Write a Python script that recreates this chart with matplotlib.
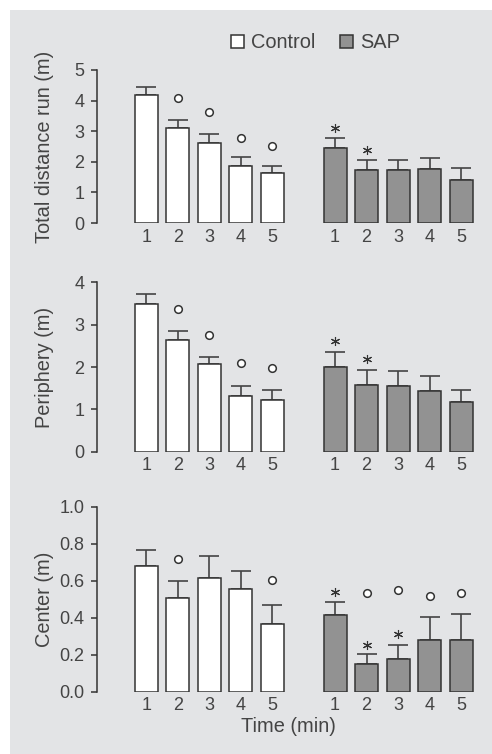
import numpy as np
import matplotlib
matplotlib.use('Agg')
from matplotlib import pyplot as plt
from matplotlib.patches import Rectangle

plt.rcParams['font.family'] = ['Liberation Sans', 'DejaVu Sans']

# time points (min)
minutes = ['1', '2', '3', '4', '5']

# total distance run (m)
dist_ctrl = [4.19, 3.10, 2.63, 1.85, 1.62]
dist_ctrl_err = [0.25, 0.28, 0.28, 0.32, 0.24]
dist_sap = [2.45, 1.74, 1.74, 1.76, 1.42]
dist_sap_err = [0.34, 0.32, 0.32, 0.38, 0.38]
dist_ctrl_circ = [None, 4.10, 3.62, 2.79, 2.53]
dist_sap_circ = [None, None, None, None, None]
dist_sap_star = [3.10, 2.38, None, None, None]

# periphery (m)
peri_ctrl = [3.49, 2.64, 2.08, 1.32, 1.22]
peri_ctrl_err = [0.23, 0.22, 0.16, 0.22, 0.24]
peri_sap = [2.00, 1.58, 1.56, 1.44, 1.18]
peri_sap_err = [0.36, 0.35, 0.35, 0.35, 0.27]
peri_ctrl_circ = [None, 3.37, 2.76, 2.09, 1.97]
peri_sap_circ = [None, None, None, None, None]
peri_sap_star = [2.62, 2.20, None, None, None]

# center (m)
cent_ctrl = [0.678, 0.506, 0.616, 0.557, 0.368]
cent_ctrl_err = [0.088, 0.092, 0.119, 0.094, 0.101]
cent_sap = [0.413, 0.150, 0.175, 0.278, 0.278]
cent_sap_err = [0.072, 0.055, 0.079, 0.124, 0.144]
cent_ctrl_circ = [None, 0.72, None, None, 0.602]
cent_sap_circ = [None, 0.532, 0.551, 0.516, 0.532]
cent_sap_star = [0.54, 0.254, 0.312, None, None]

panels = [
    ('Total distance run (m)', dist_ctrl, dist_ctrl_err, dist_sap, dist_sap_err,
     dist_ctrl_circ, dist_sap_circ, dist_sap_star, [0, 1, 2, 3, 4, 5], '%d'),
    ('Periphery (m)', peri_ctrl, peri_ctrl_err, peri_sap, peri_sap_err,
     peri_ctrl_circ, peri_sap_circ, peri_sap_star, [0, 1, 2, 3, 4], '%d'),
    ('Center (m)', cent_ctrl, cent_ctrl_err, cent_sap, cent_sap_err,
     cent_ctrl_circ, cent_sap_circ, cent_sap_star, [0.0, 0.2, 0.4, 0.6, 0.8, 1.0], '%.1f'),
]

W, H = 492, 754
bg = '#e3e4e6'
ink = '#333333'
txt = '#444444'
sap_col = '#929292'

# axes boxes in pixels: (bottom y of zero, top y of max)
boxes = [(223, 70), (451.7, 282.3), (691.7, 506.7)]
x_left, x_right = 97, 480

fig = plt.figure(figsize=(W / 100, H / 100), dpi=100)
fig.patch.set_facecolor('white')
fig.patches.append(Rectangle((10 / W, 0), 1, 1 - 10 / H, transform=fig.transFigure,
                             facecolor=bg, edgecolor='none', zorder=-10))

pos_ctrl = np.arange(5)
pos_sap = np.arange(5) + 6

for i, (ylab, c, ce, s, se, cc, sc, ss, yticks, fmt) in enumerate(panels):
    y0, y1 = boxes[i]
    ax = fig.add_axes([x_left / W, 1 - y0 / H, (x_right - x_left) / W, (y0 - y1) / H])
    ax.set_facecolor('none')

    ax.bar(pos_ctrl, c, width=0.73, color='white', edgecolor=ink, linewidth=1.1, zorder=2,
           label='Control')
    ax.bar(pos_sap, s, width=0.73, color=sap_col, edgecolor=ink, linewidth=1.1, zorder=2,
           label='SAP')
    ax.errorbar(pos_ctrl, c, yerr=[np.zeros(5), ce], fmt='none', ecolor='#444444',
                elinewidth=1.2, capsize=7, capthick=1.2, zorder=1)
    ax.errorbar(pos_sap, s, yerr=[np.zeros(5), se], fmt='none', ecolor='#444444',
                elinewidth=1.2, capsize=7, capthick=1.2, zorder=1)

    for pos, vals in [(pos_ctrl, cc), (pos_sap, sc)]:
        for x, v in zip(pos, vals):
            if v is not None:
                ax.plot(x, v, 'o', ms=5.5, mfc='white', mec=ink, mew=1.1, zorder=3,
                        clip_on=False)
    for x, v in zip(pos_sap, ss):
        if v is not None:
            ax.plot(x, v, marker=(6, 2, 0), ms=6.5, color=ink, mew=0.8, zorder=3,
                    clip_on=False)

    ax.set_xlim(-1.56, 10.6)
    ax.set_ylim(yticks[0], yticks[-1])
    ax.set_xticks(list(pos_ctrl) + list(pos_sap))
    ax.set_xticklabels(minutes + minutes)
    ax.set_yticks(yticks)
    ax.set_yticklabels([fmt % t for t in yticks])

    for side in ['top', 'right', 'bottom']:
        ax.spines[side].set_visible(False)
    ax.spines['left'].set_color(ink)
    ax.spines['left'].set_linewidth(1.1)
    ax.tick_params(axis='x', length=0, pad=4, labelsize=13, labelcolor=txt)
    ax.tick_params(axis='y', length=4, width=1.1, color=ink, pad=5, labelsize=13,
                   labelcolor=txt)

    ax.set_ylabel(ylab, fontsize=14.4, color=txt)
    ax.yaxis.set_label_coords(-0.112, 0.5)

    if i == 2:
        ax.set_xlabel('Time (min)', fontsize=14.4, color=txt, labelpad=2)
    if i == 0:
        handles, labels = ax.get_legend_handles_labels()

fig.legend(handles, labels, loc='center', bbox_to_anchor=(0.641, 1 - 43 / H), ncol=2,
           frameon=False, fontsize=14.4, handlelength=0.65, handleheight=0.65,
           handletextpad=0.35, columnspacing=1.25, labelcolor=txt)

plt.savefig('out.png', dpi=100)
